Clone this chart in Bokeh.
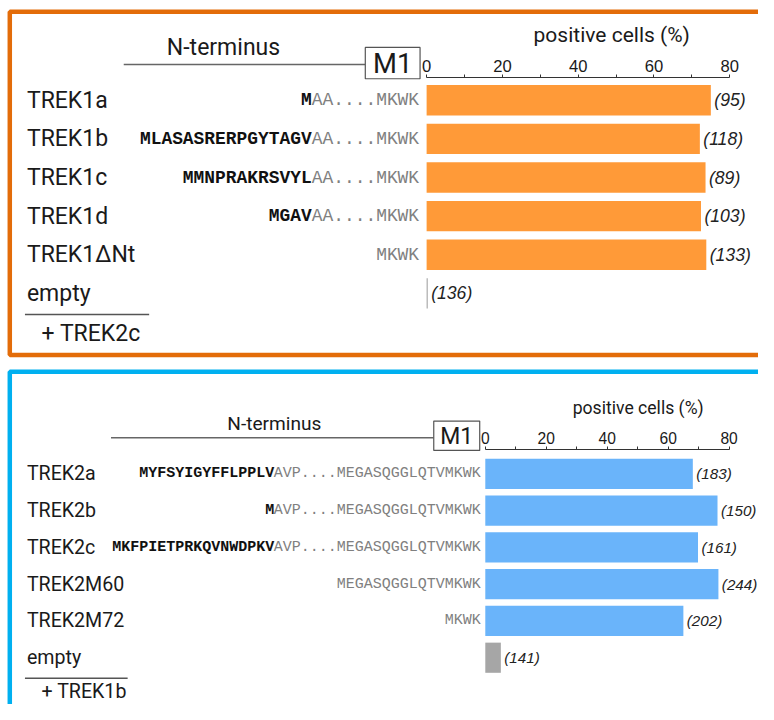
from bokeh.plotting import figure
from bokeh.models import ColumnDataSource, Range1d, LinearAxis, FixedTicker, BoxAnnotation
from bokeh.layouts import column
from bokeh.embed import file_html
from bokeh.resources import INLINE
from bokeh.core.properties import value

# ---------------- data ----------------
trek1_names = ["TREK1a", "TREK1b", "TREK1c", "TREK1d", "TREK1\u0394Nt", "empty"]
trek1_bold = ["M", "MLASASRERPGYTAGV", "MMNPRAKRSVYL", "MGAV", "", ""]
trek1_gray = ["AA....MKWK", "AA....MKWK", "AA....MKWK", "AA....MKWK", "MKWK", ""]
trek1_pct = [75.0, 72.1, 73.6, 72.4, 73.8, 0.3]
trek1_n = [95, 118, 89, 103, 133, 136]
trek1_partner = "+ TREK2c"

trek2_names = ["TREK2a", "TREK2b", "TREK2c", "TREK2M60", "TREK2M72", "empty"]
trek2_bold = ["MYFSYIGYFFLPPLV", "M", "MKFPIETPRKQVNWDPKV", "", "", ""]
trek2_gray = ["AVP....MEGASQGGLQTVMKWK", "AVP....MEGASQGGLQTVMKWK",
              "AVP....MEGASQGGLQTVMKWK", "MEGASQGGLQTVMKWK", "MKWK", ""]
trek2_pct = [68.1, 76.2, 69.8, 76.5, 65.0, 5.1]
trek2_n = [183, 150, 161, 244, 202, 141]
trek2_partner = "+ TREK1b"

x_ticks = [0, 20, 40, 60, 80]
x_title = "positive cells (%)"
header_left = "N-terminus"
header_box = "M1"

NARROW = "Roboto, 'Liberation Sans', sans-serif"
SANS = "'Liberation Sans', Arial, sans-serif"
MONO = "'Liberation Mono', 'Courier New', monospace"

W, HTOT = 758, 704
S = 0.978              # whole drawing scaled slightly so it fits the window
H1 = 363
H2 = HTOT - H1


def fs(px):
    return "%.1fpx" % (px * S)


def make_panel(names, bold, gray, pct, n, partner, bar_color, border_color, g, top_c, H):
    X = lambda rx: (rx - g["zero"]) / g["k"]
    Y = lambda ry: (ry - g["row0"]) / g["step"]
    p = figure(width=W, height=H,
               x_range=Range1d(X(0), X(W / S)),
               y_range=Range1d(Y((top_c + H) / S), Y(top_c / S)),
               output_backend="svg", toolbar_location=None,
               x_axis_location=None, y_axis_location=None, min_border=0,
               outline_line_color=None, background_fill_color="white",
               border_fill_color="white")
    p.xgrid.visible = False
    p.ygrid.visible = False

    cw = 0.6 * g["mono"] * S
    src = ColumnDataSource(dict(
        y=list(range(len(names))), name=names, bold=bold, gray=gray, pct=pct,
        nlab=["(%d)" % v for v in n],
        color=[bar_color if nm != "empty" else "#A6A6A6" for nm in names],
        boff=[-len(s) * cw for s in gray],
    ))

    # panel frame
    p.add_layout(BoxAnnotation(left=X(g["bl"]), right=X(W / S + 40), top=Y(g["bt"]),
                               bottom=Y(g["bb"]), fill_alpha=0, line_alpha=1,
                               line_color=border_color, line_width=4.5))

    # bars + counts
    p.hbar(y="y", left=0, right="pct", height=g["barh"], fill_color="color",
           line_color=None, source=src)
    p.text(x="pct", y="y", text="nlab", x_offset=3.5 * S, text_baseline="middle",
           text_font=value(SANS), text_font_style="italic",
           text_font_size=fs(g["nfs"]), text_color="#222222", source=src)

    # row labels and sequences
    p.text(x=X(g["label_x"]), y="y", text="name", text_baseline="middle",
           text_font=value(NARROW), text_font_size=fs(g["lfs"]),
           text_color="#1a1a1a", source=src)
    p.text(x=X(g["seq_r"]), y="y", text="gray", text_align="right", text_baseline="middle",
           text_font=value(MONO), text_font_size=fs(g["mono"]),
           text_color="#808080", source=src)
    p.text(x=X(g["seq_r"]), y="y", text="bold", x_offset="boff", text_align="right",
           text_baseline="middle", text_font=value(MONO), text_font_style="bold",
           text_font_size=fs(g["mono"]), text_color="#111111", source=src)

    # header
    p.text(x=[X(g["pc"][0])], y=[Y(g["pc"][1])], text=[x_title], text_align="center",
           text_baseline="middle", text_font=value(NARROW),
           text_font_size=fs(g["pcfs"]), text_color="#1a1a1a")
    p.text(x=[X(g["nt"][0])], y=[Y(g["nt"][1])], text=[header_left], text_align="center",
           text_baseline="middle", text_font=value(NARROW),
           text_font_size=fs(g["ntfs"]), text_color="#1a1a1a")
    p.line(x=[X(g["line"][0]), X(g["line"][1])], y=[Y(g["line"][2])] * 2,
           line_color="#666666", line_width=1.5)
    bx = g["box"]
    p.quad(left=[X(bx[0])], right=[X(bx[1])], top=[Y(bx[2])], bottom=[Y(bx[3])],
           fill_color="white", line_color="#555555", line_width=1.2)
    p.text(x=[X((bx[0] + bx[1]) / 2)], y=[Y((bx[2] + bx[3]) / 2 + 1)], text=[header_box],
           text_align="center", text_baseline="middle", text_font=value(NARROW),
           text_font_size=fs(g["m1fs"]), text_color="#1a1a1a")

    # co-expressed partner
    sp = g["sep"]
    p.line(x=[X(sp[0]), X(sp[1])], y=[Y(sp[2])] * 2, line_color="#555555", line_width=1.5)
    p.text(x=[X(g["plus"][0])], y=[Y(g["plus"][1])], text=[partner], text_baseline="middle",
           text_font=value(NARROW), text_font_size=fs(g["lfs"]), text_color="#1a1a1a")

    # axis
    minor = [(a + b) / 2 for a, b in zip(x_ticks[:-1], x_ticks[1:])]
    ax = LinearAxis(fixed_location=Y(g["axis_y"]), bounds=(x_ticks[0], x_ticks[-1]),
                    ticker=FixedTicker(ticks=x_ticks, minor_ticks=minor),
                    major_tick_in=0, major_tick_out=3, minor_tick_in=0, minor_tick_out=3,
                    major_tick_line_color="#333333", minor_tick_line_color="#333333",
                    axis_line_color="#333333", axis_line_width=1.2,
                    major_label_standoff=2,
                    major_label_text_font=SANS,
                    major_label_text_font_size=fs(g["tfs"]),
                    major_label_text_color="#1a1a1a")
    p.add_layout(ax, "above")
    return p


# geometry in reference-image pixels
g1 = dict(zero=435.7, k=3.875, row0=102, step=39.5, barh=0.785,
          label_x=27, seq_r=428, mono=18.3, lfs=23.5, nfs=18, tfs=17,
          pc=(625, 35), pcfs=21.5, nt=(228, 48), ntfs=23.5, line=(126, 373, 65.5),
          box=(373, 429, 48, 80), m1fs=28, axis_y=78.3,
          bl=9.5, bt=11.5, bb=362.5, sep=(25, 152, 321), plus=(42, 340))
g2 = dict(zero=495.7, k=3.116, row0=484, step=37.6, barh=0.82,
          label_x=27, seq_r=491, mono=15.3, lfs=20, nfs=15.5, tfs=16,
          pc=(652, 417), pcfs=18, nt=(280, 433), ntfs=19.5, line=(113, 443, 447),
          box=(443, 490, 430, 460), m1fs=23.5, axis_y=459,
          bl=9.5, bt=379.5, bb=760, sep=(25, 130, 693), plus=(42, 707))

p1 = make_panel(trek1_names, trek1_bold, trek1_gray, trek1_pct, trek1_n, trek1_partner,
                "#FF9A38", "#E36C09", g1, 0, H1)
p2 = make_panel(trek2_names, trek2_bold, trek2_gray, trek2_pct, trek2_n, trek2_partner,
                "#6AB4FA", "#00B0F0", g2, H1, H2)

layout = column(p1, p2, spacing=0)
open("out.html", "w").write(file_html(layout, INLINE))
